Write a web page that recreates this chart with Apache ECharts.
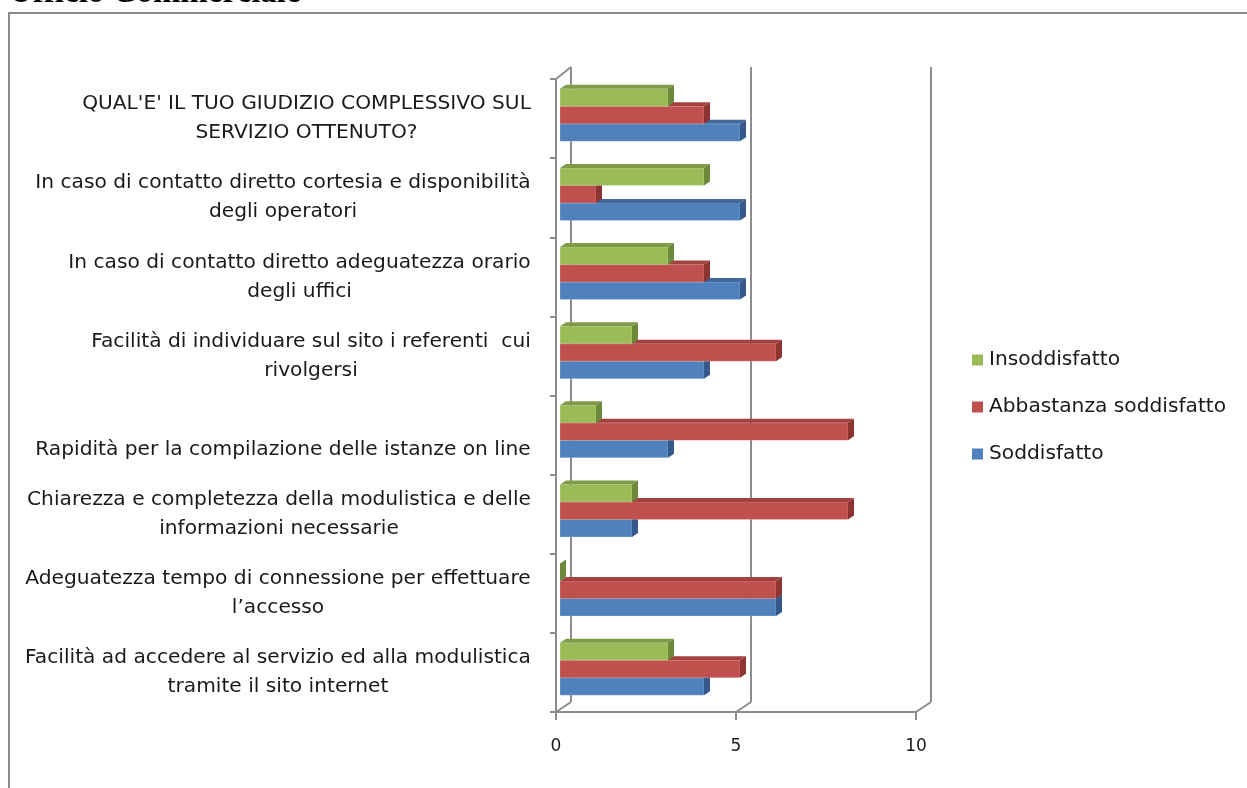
<!DOCTYPE html>
<html>
<head>
<meta charset="utf-8">
<script src="https://cdn.jsdelivr.net/npm/echarts@6/dist/echarts.min.js"></script>
<style>
  html, body { margin: 0; padding: 0; background: #fff; }
  #chart { width: 1247px; height: 788px; }
</style>
</head>
<body>
<div id="chart"></div>
<script>
// categories bottom -> top (category axis grows upward)
const CATEGORIES = [
  'Facilità ad accedere al servizio ed alla modulistica\ntramite il sito internet',
  'Adeguatezza tempo di connessione per effettuare\nl\u2019accesso',
  'Chiarezza e completezza della modulistica e delle\ninformazioni necessarie',
  '\nRapidità per la compilazione delle istanze on line',
  'Facilità di individuare sul sito i referenti  cui\nrivolgersi',
  'In caso di contatto diretto adeguatezza orario\ndegli uffici',
  'In caso di contatto diretto cortesia e disponibilità\ndegli operatori',
  "QUAL'E' IL TUO GIUDIZIO COMPLESSIVO SUL\nSERVIZIO OTTENUTO?"
]
const SODDISFATTO = [4, 6, 2, 3, 4, 5, 5, 5]
const ABBASTANZA = [5, 6, 8, 8, 6, 4, 1, 4]
const INSODDISFATTO = [3, 0, 2, 1, 2, 3, 4, 3]
const X_TICKS = [0, 5, 10]

const FONT = 'DejaVu Sans'
const LABEL_SIZE = 20.2
const TEXT_COLOR = '#1a1a1a'

// 3d look
const WALL_DX = 15, WALL_DY = 11     // back wall offset
const BAR_SX = 4, BAR_SY = -3.5      // bars sit a bit inside the floor
const BAR_DX = 6, BAR_DY = 4         // bar depth
const BAR_H = 17.5

const seriesDefs = [
  { name: 'Soddisfatto', data: SODDISFATTO, front: '#4F81BD', top: '#41699b', side: '#34598a', slot: 1 },
  { name: 'Abbastanza soddisfatto', data: ABBASTANZA, front: '#C0504D', top: '#a2413e', side: '#8d3432', slot: 0 },
  { name: 'Insoddisfatto', data: INSODDISFATTO, front: '#9BBB59', top: '#7f9b47', side: '#6c883a', slot: -1 }
]

// rich styles so that each multi-line label is centred on itself
const ctx = document.createElement('canvas').getContext('2d')
ctx.font = LABEL_SIZE + 'px "' + FONT + '"'
const rich = {}
CATEGORIES.forEach((c, i) => {
  const w = Math.max(...c.split('\n').map(l => ctx.measureText(l).width))
  rich['c' + i] = { width: Math.ceil(w) + 2, align: 'center', fontSize: LABEL_SIZE, fontFamily: FONT, lineHeight: 29, color: TEXT_COLOR }
})

function barRenderer(def) {
  return function (params, api) {
    const v = api.value(0), cat = api.value(1)
    const p0 = api.coord([0, cat]), p1 = api.coord([v, cat])
    const x0 = p0[0] + BAR_SX, x1 = p1[0] + BAR_SX
    const yc = p0[1] + BAR_SY + def.slot * BAR_H
    const yt = yc - BAR_H / 2, yb = yc + BAR_H / 2
    return {
      type: 'group',
      children: [
        { type: 'rect', shape: { x: x0, y: yt, width: x1 - x0, height: BAR_H },
          style: { fill: def.front, stroke: 'rgba(255,255,255,0.35)', lineWidth: 0.6 } },
        { type: 'polygon', shape: { points: [[x0, yt], [x0 + BAR_DX, yt - BAR_DY], [x1 + BAR_DX, yt - BAR_DY], [x1, yt]] },
          style: { fill: def.top } },
        { type: 'polygon', shape: { points: [[x1, yt], [x1 + BAR_DX, yt - BAR_DY], [x1 + BAR_DX, yb - BAR_DY], [x1, yb]] },
          style: { fill: def.side } }
      ]
    }
  }
}

function wallRenderer(params, api) {
  const cs = params.coordSys
  const x = api.coord([api.value(0), 0])[0]
  const bottom = cs.y + cs.height, top = cs.y
  const ls = { stroke: '#8c8c8c', lineWidth: 2 }
  const children = [
    { type: 'line', shape: { x1: x, y1: bottom, x2: x + WALL_DX, y2: bottom - WALL_DY + 1 }, style: ls },
    { type: 'line', shape: { x1: x + WALL_DX, y1: bottom - WALL_DY + 1, x2: x + WALL_DX, y2: top - WALL_DY - 1 }, style: ls }
  ]
  if (api.value(0) === 0) {
    children.push({ type: 'line', shape: { x1: x, y1: top, x2: x + WALL_DX, y2: top - WALL_DY - 1 }, style: ls })
  }
  return { type: 'group', children }
}

const chart = echarts.init(document.getElementById('chart'))

const option = {
  backgroundColor: '#fff',
  animation: false,
  title: {
    text: 'Ufficio Commerciale',
    left: 4,
    top: -28,
    textStyle: { fontFamily: 'Liberation Serif', fontWeight: 'bold', fontSize: 33, color: '#000' }
  },
  graphic: [
    { type: 'rect', silent: true, shape: { x: 9, y: 13, width: 1300, height: 900 },
      style: { fill: 'none', stroke: '#8a8a8a', lineWidth: 2 } }
  ],
  legend: {
    orient: 'vertical',
    left: 967,
    top: 345,
    itemWidth: 11,
    itemHeight: 11,
    itemGap: 27,
    icon: 'rect',
    data: ['Insoddisfatto', 'Abbastanza soddisfatto', 'Soddisfatto'],
    textStyle: { fontFamily: FONT, fontSize: LABEL_SIZE, color: TEXT_COLOR, padding: [0, 0, 0, 1] }
  },
  grid: { left: 556, top: 79, width: 360, height: 633 },
  xAxis: {
    type: 'value',
    min: 0,
    max: 10,
    interval: 5,
    splitLine: { show: false },
    axisLine: { show: true, lineStyle: { color: '#8c8c8c', width: 2 } },
    axisTick: { show: true, length: 8, lineStyle: { color: '#8c8c8c', width: 2 } },
    axisLabel: { color: TEXT_COLOR, fontFamily: FONT, fontSize: 17, margin: 26 }
  },
  yAxis: {
    type: 'category',
    data: CATEGORIES,
    axisLine: { show: true, lineStyle: { color: '#8c8c8c', width: 2 } },
    axisTick: { show: true, length: 6, lineStyle: { color: '#8c8c8c', width: 2 } },
    axisLabel: {
      margin: 24,
      formatter: (value, idx) => value.split('\n').map(l => '{c' + idx + '|' + (l || ' ') + '}').join('\n'),
      rich
    }
  },
  series: [
    {
      type: 'custom',
      name: 'walls',
      silent: true,
      clip: false,
      z: 1,
      renderItem: wallRenderer,
      data: X_TICKS.map(v => [v, 0])
    },
    ...seriesDefs.map(def => ({
      type: 'custom',
      name: def.name,
      clip: false,
      z: 2,
      itemStyle: { color: def.front },
      encode: { x: 0, y: 1 },
      renderItem: barRenderer(def),
      data: def.data.map((v, i) => [v, i])
    }))
  ]
}

chart.setOption(option)
</script>
</body>
</html>
